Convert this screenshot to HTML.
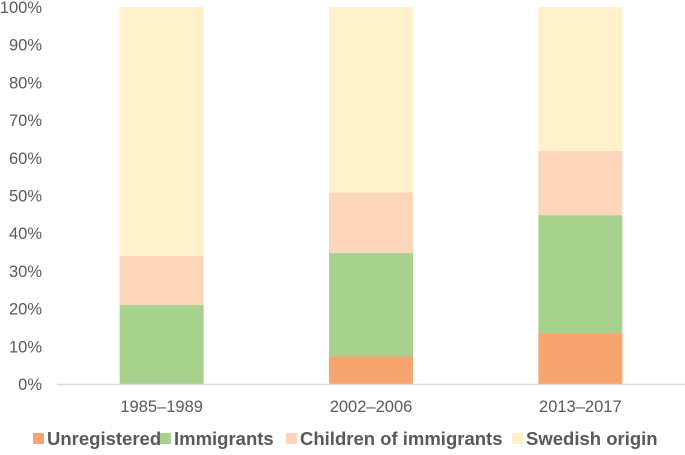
<!DOCTYPE html>
<html><head><meta charset="utf-8"><style>
body{margin:0;background:#fff;width:685px;height:450px;overflow:hidden}
svg{font-family:"Liberation Sans",sans-serif}
</style></head><body>
<svg id="chart" width="685" height="450"></svg>
<script>
const categories=["1985–1989","2002–2006","2013–2017"];
const unregistered=[0,7.3,13.5];
const immigrants=[21,27.5,31.3];
const children=[13,16,17];
const swedish=[66,49.2,38.2];
const yTicks=[0,10,20,30,40,50,60,70,80,90,100];
const seriesNames=["Unregistered","Immigrants","Children of immigrants","Swedish origin"];
const seriesData=[unregistered,immigrants,children,swedish];
const colors=["#f5a56d","#a9d18e","#fbd6bb","#fff1cb"];
const ns="http://www.w3.org/2000/svg";
const svg=document.getElementById("chart");
const x0=57,x1=685,y0=384,y1=7;
const band=(x1-x0)/categories.length;
const y=v=>y0-(y0-y1)*v/100;
const xc=i=>x0+band*(i+0.5);
const bw=84;
function mk(t,a){const e=document.createElementNS(ns,t);for(const k in a)e.setAttribute(k,a[k]);svg.appendChild(e);return e;}
yTicks.forEach(t=>{
 const e=mk("text",{x:42,y:y(t)+6,"text-anchor":"end","font-size":"16.5",fill:"#595959"});
 e.textContent=t+"%";
 
 
});
categories.forEach((c,i)=>{
 let acc=0;
 seriesData.forEach((s,j)=>{
  const v=s[i];
  const r=mk("rect",{x:xc(i)-bw/2,y:y(acc+v),width:bw,height:Math.max(0,y(acc)-y(acc+v)),fill:colors[j]});
  
  
  acc+=v;
 });
 const t=mk("text",{x:xc(i),y:412,"text-anchor":"middle","font-size":"16.5",fill:"#595959"});
 t.textContent=c;
 
 
});
const ax=mk("line",{x1:x0,x2:x1,y1:y0+0.5,y2:y0+0.5,stroke:"#d9d9d9","stroke-width":1.5});


const lx=[33,160,286,512];
seriesNames.forEach((n,j)=>{
 const r=mk("rect",{x:lx[j],y:433,width:11,height:11,fill:colors[j]});
 
 
 const t=mk("text",{x:lx[j]+14,y:445,"font-size":"18.5","font-weight":"bold",fill:"#595959"});
 t.textContent=n;
 
 
});
</script>
</body></html>
